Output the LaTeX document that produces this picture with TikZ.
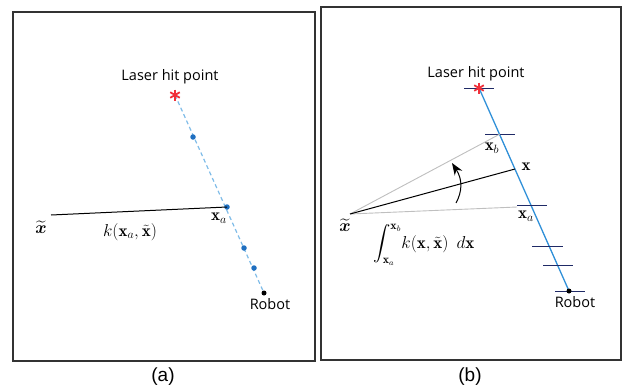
\documentclass[tikz,border=0pt]{standalone}
\usepackage{fontspec}
\usepackage{amsmath,bm}
\usetikzlibrary{arrows.meta}
\newfontfamily\labelfont{Open Sans}
\newfontfamily\capfont{Liberation Sans}
\definecolor{dashblue}{HTML}{7FBCE8}
\definecolor{dotblue}{HTML}{1F6FC0}
\definecolor{lineblue}{HTML}{3090D8}
\definecolor{ticknavy}{HTML}{1F2A66}
\definecolor{starred}{HTML}{F0303A}
\tikzset{
  panel/.style={draw=black!80, line width=1.6pt},
  lbl/.style={font=\labelfont\fontsize{14.5}{17}\selectfont, inner sep=0pt},
  mathlbl/.style={font=\fontsize{17}{20}\selectfont, inner sep=0pt},
  captext/.style={font=\capfont\fontsize{19}{22}\selectfont, inner sep=0pt},
  bdot/.style={circle, fill=dotblue, inner sep=0pt, minimum size=5.5pt},
  rdot/.style={circle, fill=black, inner sep=0pt, minimum size=5pt},
  starline/.style={draw=starred, line width=1.8pt},
  tickline/.style={draw=ticknavy, line width=0.9pt},
  grayline/.style={draw=black!25, line width=0.9pt},
}
\newcommand{\redasterisk}[1]{%
  \draw[starline] ([shift={(0,-5.5)}]#1) -- ([shift={(0,5.5)}]#1);
  \draw[starline] ([shift={(-4.8,-2.75)}]#1) -- ([shift={(4.8,2.75)}]#1);
  \draw[starline] ([shift={(-4.8,2.75)}]#1) -- ([shift={(4.8,-2.75)}]#1);}
\begin{document}
\begin{tikzpicture}[x=1pt, y=-1pt]
\useasboundingbox (0,0) rectangle (623,388);
% frames
\draw[panel] (13,12) rectangle (315,361);
\draw[panel] (321,7) rectangle (621,360);
\node[captext] (capa) at (163,377) {(a)};
\node[captext] (capb) at (470,377) {(b)};

% ---------- panel (a)
\node[lbl] (laserA) at (170,77) {Laser hit point};
\coordinate (starA) at (175,95);
\coordinate (robotA) at (264,293);
\draw[dashblue, line width=1.2pt, dash pattern=on 4pt off 3pt] (starA) -- (robotA);
\redasterisk{starA}
\node[bdot] (d1) at (193,137) {};
\node[bdot] (xa) at (227,207) {};
\node[bdot] (d3) at (244,248) {};
\node[bdot] (d4) at (254,268) {};
\node[rdot] (robA) at (robotA) {};
\node[lbl] (robotlblA) at (270,304) {Robot};
\coordinate (xtA) at (51,215);
\draw[black, line width=1pt] (xtA) -- (xa.center);
\node[mathlbl] (xtlblA) at (41,227) {$\widetilde{\bm{x}}$};
\node[mathlbl] (klbl) at (130,232) {$k(\mathbf{x}_a,\tilde{\mathbf{x}})$};
\node[mathlbl] (xalblA) at (219,218) {$\mathbf{x}_a$};

% ---------- panel (b)
\node[lbl] (laserB) at (476,74) {Laser hit point};
\coordinate (starB) at (479,88);
\coordinate (robotB) at (569,291);
\draw[lineblue, line width=1.3pt] (starB) -- (robotB);
\draw[tickline] (464,88) -- (494,88);
\draw[tickline] (485,134) -- (515,134);
\draw[tickline] (517,205) -- (547,205);
\draw[tickline] (532,246) -- (563,246);
\draw[tickline] (543,265) -- (573,265);
\draw[tickline] (555,291) -- (585,291);
\redasterisk{starB}
\node[rdot] (robB) at (robotB) {};
\node[lbl] (robotlblB) at (575,302) {Robot};
\coordinate (xtB) at (350,214);
\coordinate (xbB) at (500,134);
\coordinate (xaB) at (517,207);
\coordinate (xB) at (515,169);
\draw[grayline] (xtB) -- (xbB);
\draw[grayline] (xtB) -- (xaB);
\draw[black, line width=1pt] (xtB) -- (xB);
\coordinate (arrS) at (456,203);
\coordinate (arrE) at (452,163);
\draw[black, line width=1pt, -{Stealth[length=12pt,width=9pt]}] (arrS) .. controls (462,192) and (463,180) .. (arrE);
\node[mathlbl] (xtlblB) at (345,225) {$\widetilde{\bm{x}}$};
\node[mathlbl] (xblbl) at (492,148) {$\mathbf{x}_b$};
\node[mathlbl] (xlbl) at (526,167) {$\mathbf{x}$};
\node[mathlbl] (xalblB) at (526,216) {$\mathbf{x}_a$};
\node[mathlbl, anchor=west] (intlbl) at (373,245) {$\displaystyle\int_{\mathbf{x}_a}^{\mathbf{x}_b}\! k(\mathbf{x},\tilde{\mathbf{x}})\ \,d\mathbf{x}$};
\end{tikzpicture}
\end{document}
